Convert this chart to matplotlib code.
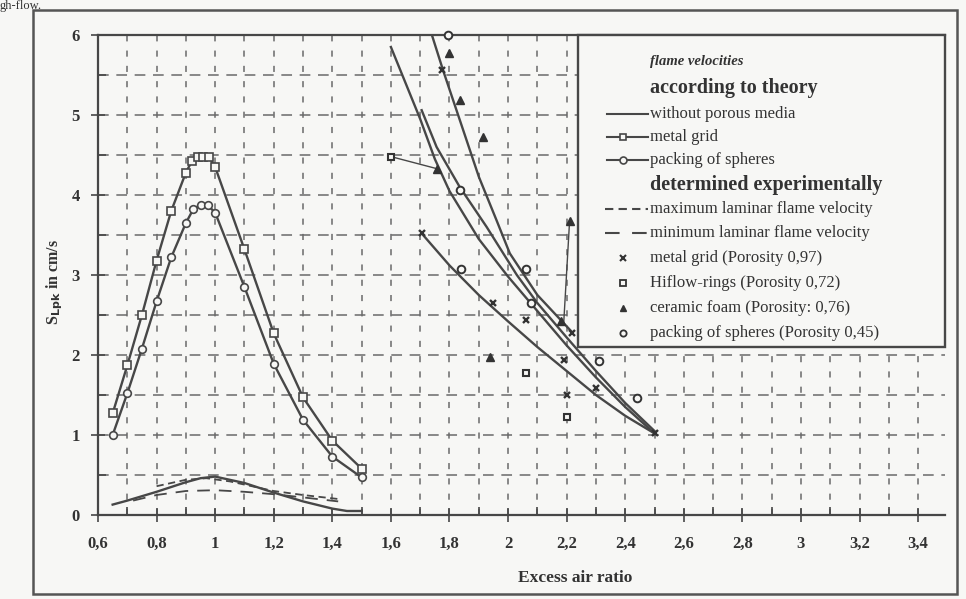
import matplotlib
matplotlib.use("Agg")
import matplotlib.pyplot as plt
from matplotlib.lines import Line2D
from matplotlib.patches import Rectangle
from matplotlib.ticker import MultipleLocator, FuncFormatter

# ---------------- data ----------------
# theory, left branch (rich side)
lam_grid_left = [0.65, 0.70, 0.75, 0.80, 0.85, 0.90, 0.92, 0.94, 0.96, 0.98, 1.00, 1.10, 1.20, 1.30, 1.40, 1.50]
s_grid_left = [1.27, 1.87, 2.50, 3.18, 3.80, 4.28, 4.42, 4.47, 4.48, 4.47, 4.35, 3.32, 2.27, 1.47, 0.93, 0.58]
lam_sph_left = [0.65, 0.70, 0.75, 0.80, 0.85, 0.90, 0.925, 0.95, 0.975, 1.00, 1.10, 1.20, 1.30, 1.40, 1.50]
s_sph_left = [1.00, 1.52, 2.08, 2.67, 3.22, 3.65, 3.82, 3.88, 3.87, 3.78, 2.85, 1.89, 1.19, 0.73, 0.47]
lam_free_left = [0.65, 0.70, 0.80, 0.90, 0.95, 1.00, 1.10, 1.20, 1.30, 1.40, 1.45, 1.50]
s_free_left = [0.13, 0.18, 0.29, 0.41, 0.46, 0.48, 0.40, 0.28, 0.17, 0.08, 0.05, 0.05]
# experimental laminar flame velocity (left branch)
lam_max_lam = [0.80, 0.90, 0.97, 1.05, 1.20, 1.30, 1.42]
s_max_lam = [0.36, 0.44, 0.46, 0.42, 0.30, 0.25, 0.20]
lam_min_lam = [0.72, 0.80, 0.90, 1.00, 1.10, 1.20, 1.30, 1.42]
s_min_lam = [0.18, 0.25, 0.30, 0.31, 0.29, 0.26, 0.22, 0.17]

# theory, right branch (lean side)
lam_r_a = [1.60, 1.70, 1.75, 1.80, 1.90, 2.00, 2.10, 2.20, 2.30, 2.40, 2.50]
s_r_a = [5.85, 4.95, 4.45, 4.05, 3.45, 2.98, 2.55, 2.12, 1.72, 1.35, 1.02]
lam_r_b = [1.705, 1.756, 1.835, 1.927, 2.03, 2.10, 2.20, 2.30, 2.40, 2.50]
s_r_b = [5.06, 4.60, 4.10, 3.60, 3.00, 2.65, 2.22, 1.80, 1.40, 1.05]
lam_r_c = [1.74, 1.778, 1.835, 1.90, 1.96, 2.006, 2.10, 2.22]
s_r_c = [6.00, 5.56, 4.94, 4.23, 3.69, 3.27, 2.75, 2.28]
lam_r_d = [1.705, 1.80, 1.90, 2.00, 2.10, 2.20, 2.30, 2.40, 2.50]
s_r_d = [3.52, 3.12, 2.75, 2.42, 2.10, 1.80, 1.50, 1.24, 1.02]

# experimental points (right branch)
lam_x_grid = [1.705, 1.773, 1.95, 2.06, 2.19, 2.20, 2.30, 2.22, 2.50]
s_x_grid = [3.52, 5.56, 2.65, 2.44, 1.94, 1.50, 1.59, 2.28, 1.02]
lam_x_hiflow = [1.60, 2.06, 2.20]
s_x_hiflow = [4.48, 1.77, 1.23]
lam_x_foam = [1.80, 1.835, 1.915, 1.756, 2.21, 2.18, 1.94]
s_x_foam = [5.78, 5.19, 4.73, 4.33, 3.67, 2.42, 1.98]
lam_x_sph = [1.795, 1.835, 1.84, 2.06, 2.08, 2.31, 2.44]
s_x_sph = [6.00, 4.06, 3.07, 3.07, 2.65, 1.92, 1.46]
lam_link1 = [1.60, 1.756]
s_link1 = [4.48, 4.33]
lam_link2 = [2.21, 2.19]
s_link2 = [3.67, 2.40]

x_ticks = [0.6, 0.8, 1.0, 1.2, 1.4, 1.6, 1.8, 2.0, 2.2, 2.4, 2.6, 2.8, 3.0, 3.2, 3.4]
y_ticks = [0, 1, 2, 3, 4, 5, 6]

legend_labels = [
    "without porous media",
    "metal grid",
    "packing of spheres",
    "maximum laminar flame velocity",
    "minimum laminar flame velocity",
    "metal grid (Porosity 0,97)",
    "Hiflow-rings (Porosity 0,72)",
    "ceramic foam (Porosity: 0,76)",
    "packing of spheres (Porosity 0,45)",
]

# ---------------- styling ----------------
FONT = ["Liberation Serif", "DejaVu Serif"]
plt.rcParams["font.family"] = FONT
INK = "#333333"
LINE = "#474747"
GRIDC = "#6a6a6a"
BG = "#f7f7f5"

W, H = 966, 599
fig = plt.figure(figsize=(W / 100, H / 100), dpi=100, facecolor=BG)

AX_L, AX_R, AX_T, AX_B = 98, 945, 35, 515
ax = fig.add_axes([AX_L / W, 1 - AX_B / H, (AX_R - AX_L) / W, (AX_B - AX_T) / H])
ax.set_facecolor(BG)
ax.set_xlim(0.6, 0.6 + (AX_R - AX_L) / 292.9)
ax.set_ylim(0, 6)

# grid
for i in range(1, 30):
    xv = 0.6 + 0.1 * i
    if xv < ax.get_xlim()[1]:
        ax.axvline(xv, color=GRIDC, lw=1.1, dashes=(4, 6), zorder=1)
for i in range(1, 12):
    ax.axhline(0.5 * i, color=GRIDC, lw=1.1, dashes=(7, 5), zorder=1)

# theory curves left
ax.plot(lam_grid_left, s_grid_left, color=LINE, lw=1.7, marker="s", ms=5.5,
        mfc=BG, mec=LINE, mew=1.2, zorder=3)
ax.plot(lam_sph_left, s_sph_left, color=LINE, lw=1.7, marker="o", ms=5.5,
        mfc=BG, mec=LINE, mew=1.2, zorder=3)
ax.plot(lam_free_left, s_free_left, color=LINE, lw=1.7, zorder=3)
ax.plot(lam_max_lam, s_max_lam, color=LINE, lw=1.3, dashes=(4, 2.5), zorder=3)
ax.plot(lam_min_lam, s_min_lam, color=LINE, lw=1.3, dashes=(7, 5), zorder=3)

# theory curves right
for lx, sy in [(lam_r_a, s_r_a), (lam_r_b, s_r_b), (lam_r_c, s_r_c), (lam_r_d, s_r_d)]:
    ax.plot(lx, sy, color=LINE, lw=1.7, zorder=3)
ax.plot(lam_link1, s_link1, color=LINE, lw=1.0, zorder=3)
ax.plot(lam_link2, s_link2, color=LINE, lw=1.0, zorder=3)

# experimental points
ax.plot(lam_x_grid, s_x_grid, ls="none", marker="x", ms=5, mew=1.7, color="#333333", zorder=4)
ax.plot(lam_x_hiflow, s_x_hiflow, ls="none", marker="s", ms=5, mew=1.5, mfc=BG, mec="#333333", zorder=4)
ax.plot(lam_x_foam, s_x_foam, ls="none", marker="^", ms=6, color="#333333", zorder=4)
ax.plot(lam_x_sph, s_x_sph, ls="none", marker="o", ms=5.5, mew=1.4, mfc=BG, mec="#333333",
        zorder=4, clip_on=False)

# axes / ticks
ax.spines["right"].set_visible(False)
for side in ["left", "bottom", "top"]:
    ax.spines[side].set_color(LINE)
    ax.spines[side].set_linewidth(1.6)
ax.set_xticks(x_ticks)
ax.set_yticks(y_ticks)
ax.xaxis.set_minor_locator(MultipleLocator(0.1))
ax.yaxis.set_minor_locator(MultipleLocator(0.5))
fmt = FuncFormatter(lambda v, p: ("%g" % round(v, 2)).replace(".", ","))
ax.xaxis.set_major_formatter(fmt)
ax.yaxis.set_major_formatter(fmt)
ax.tick_params(axis="both", which="major", direction="inout", length=10, width=1.2,
               color=LINE, labelcolor=INK, labelsize=12)
ax.tick_params(axis="both", which="minor", direction="in", length=6, width=1.2, color=LINE)
ax.tick_params(axis="x", which="major", pad=10)
ax.tick_params(axis="y", which="major", pad=8)
for lab in ax.get_xticklabels() + ax.get_yticklabels():
    lab.set_fontweight("bold")

ax.text((575 - AX_L) / (AX_R - AX_L), (AX_B - 578) / (AX_B - AX_T), "Excess air ratio",
        transform=ax.transAxes, ha="center", va="center", fontsize=12.5,
        fontweight="bold", color=INK)
ax.text((55 - AX_L) / (AX_R - AX_L), (AX_B - 282) / (AX_B - AX_T),
        r"S$_{\mathbf{Lpk}}$ in cm/s", transform=ax.transAxes, rotation=90,
        ha="center", va="center", fontsize=11.5, fontweight="bold", color=INK)

# ---------------- legend box (manual) ----------------
def fx(px):
    return (px - AX_L) / (AX_R - AX_L)

def fy(py):
    return (AX_B - py) / (AX_B - AX_T)

box = Rectangle((fx(578), fy(347)), 1 - fx(578), 1 - fy(347), transform=ax.transAxes,
                facecolor=BG, edgecolor=LINE, lw=1.7, zorder=6, clip_on=False)
ax.add_patch(box)

tx = fx(650)
l0, l1 = fx(607), fx(648)
mx = fx(623)
ax.text(tx, fy(62), "flame velocities", transform=ax.transAxes, fontsize=10.5,
        fontweight="bold", style="italic", color=INK, va="center", zorder=7)
ax.text(tx, fy(88), "according to theory", transform=ax.transAxes, fontsize=14.5,
        fontweight="bold", color=INK, va="center", zorder=7)
ax.text(tx, fy(185), "determined experimentally", transform=ax.transAxes, fontsize=14.5,
        fontweight="bold", color=INK, va="center", zorder=7)

entry_y = [114, 137, 160, 209, 233, 258, 283, 308, 333]
sample_styles = [
    dict(kind="line", marker=None),
    dict(kind="line", marker="s"),
    dict(kind="line", marker="o"),
    dict(kind="dash", dashes=(4, 2.5)),
    dict(kind="dash", dashes=(7, 6)),
    dict(kind="mark", marker="x"),
    dict(kind="mark", marker="s"),
    dict(kind="mark", marker="^"),
    dict(kind="mark", marker="o"),
]
for yy, lab, st in zip(entry_y, legend_labels, sample_styles):
    y = fy(yy)
    if st["kind"] == "line":
        ax.add_line(Line2D([l0, l1], [y, y], transform=ax.transAxes, color=LINE, lw=1.5, zorder=7))
        if st["marker"]:
            ax.add_line(Line2D([mx], [y], transform=ax.transAxes, marker=st["marker"], ms=5,
                               mfc=BG, mec=LINE, mew=1.2, zorder=8))
    elif st["kind"] == "dash":
        ax.add_line(Line2D([fx(605), l1], [y, y], transform=ax.transAxes, color=LINE,
                           lw=1.5, dashes=st["dashes"], zorder=7))
    else:
        m = st["marker"]
        if m == "x":
            kw = dict(color="#333333", mew=1.5, ms=4.5)
        elif m == "^":
            kw = dict(color="#333333", ms=5)
        else:
            kw = dict(mfc=BG, mec="#333333", mew=1.3, ms=4.5)
        ax.add_line(Line2D([mx], [y], transform=ax.transAxes, marker=m, ls="none", zorder=8, **kw))
    ax.text(tx, y, lab, transform=ax.transAxes, fontsize=12, color=INK, va="center", zorder=7)

# outer frame of the scanned figure
fig.add_artist(Rectangle((33 / W, 1 - 594 / H), (957 - 33) / W, (594 - 10) / H,
                         transform=fig.transFigure, fill=False, edgecolor="#555555", lw=1.8))
fig.text(0.0, 1.0, "gh-flow.", ha="left", va="top", fontsize=9, color=INK)

fig.savefig("out.png", dpi=100, facecolor=BG)
